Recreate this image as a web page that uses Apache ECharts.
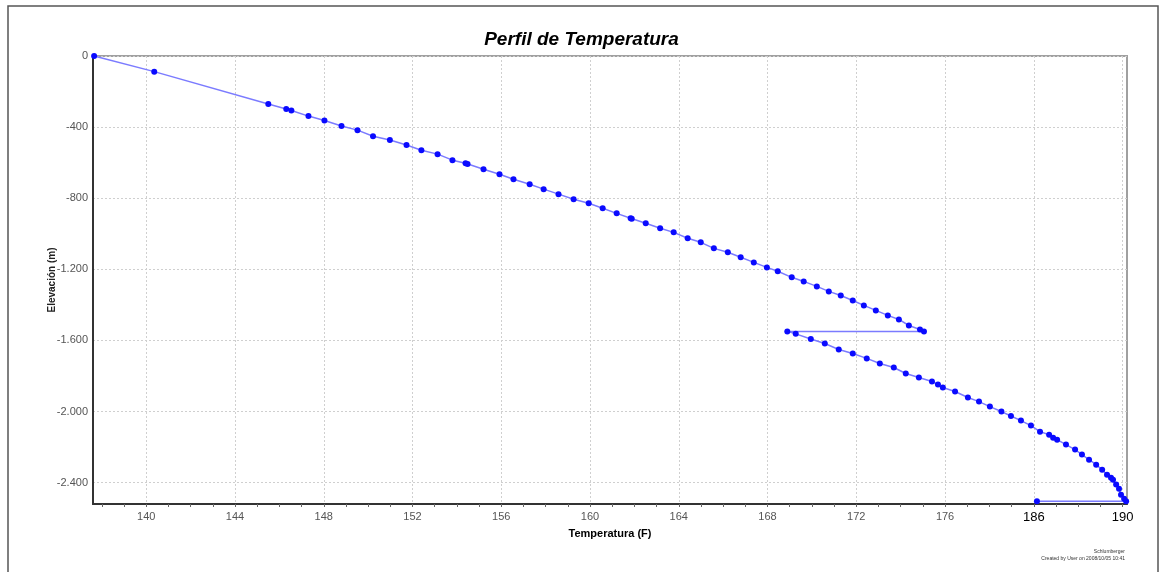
<!DOCTYPE html>
<html><head><meta charset="utf-8">
<script src="https://cdn.jsdelivr.net/npm/echarts@6/dist/echarts.min.js"></script>
<style>html,body{margin:0;padding:0;background:#fff}#c{width:1163px;height:572px}</style>
</head><body><div id="c"></div>
<script>
const titleText = 'Perfil de Temperatura';
const xName = 'Temperatura (F)';
const yName = 'Elevación (m)';
const xTickValues = [140,144,148,152,156,160,164,168,172,176,180,184];
const xTickLabels = ['140','144','148','152','156','160','164','168','172','176','186','190'];
const yTickValues = [0,-400,-800,-1200,-1600,-2000,-2400];
const yTickLabels = ['0','-400','-800','-1.200','-1.600','-2.000','-2.400'];
const footerLines = ['Schlumberger','Created by User on 2008/10/05 10:41'];

const temperature = [137.65,140.36,145.50,146.31,146.54,147.31,148.03,148.80,149.52,150.22,150.98,151.73,152.40,153.13,153.80,154.39,154.48,155.20,155.92,156.55,157.28,157.91,158.58,159.26,159.94,160.57,161.20,161.83,161.88,162.51,163.16,163.77,164.40,164.99,165.58,166.21,166.79,167.38,167.97,168.46,169.09,169.63,170.22,170.76,171.30,171.84,172.34,172.88,173.42,173.92,174.37,174.87,175.05,
168.89,169.27,169.95,170.58,171.21,171.84,172.47,173.06,173.69,174.23,174.82,175.41,175.68,175.90,176.45,177.03,177.53,178.02,178.54,178.97,179.42,179.87,180.28,180.69,180.87,181.05,181.45,181.86,182.17,182.49,182.81,183.08,183.30,183.48,183.57,183.71,183.84,183.93,184.07,184.16,180.14];
const elevation = [0,-88,-270,-298,-307,-338,-363,-394,-417,-451,-473,-501,-530,-552,-586,-603,-608,-637,-665,-693,-721,-749,-777,-806,-828,-856,-885,-913,-915,-941,-969,-992,-1025,-1048,-1082,-1104,-1132,-1161,-1189,-1211,-1245,-1268,-1296,-1324,-1347,-1375,-1403,-1431,-1459,-1482,-1516,-1538,-1549,
-1549,-1563,-1592,-1617,-1651,-1673,-1701,-1730,-1752,-1786,-1808,-1831,-1848,-1865,-1887,-1921,-1944,-1972,-2000,-2025,-2051,-2079,-2113,-2130,-2147,-2158,-2186,-2214,-2242,-2271,-2299,-2327,-2355,-2372,-2383,-2411,-2434,-2468,-2490,-2505,-2505];

const minorX = [];
for (let v = 138; v <= 184; v++) minorX.push(v);

const pts = temperature.map((t, i) => [t, elevation[i]]);
const FONT = '"Liberation Sans", Arial, sans-serif';
const GRID = {left: 93, top: 56, right: 36, bottom: 68};
const plotH = 572 - GRID.top - GRID.bottom;

const chart = echarts.init(document.getElementById('c'), null, {renderer: 'canvas'});
chart.setOption({
  animation: false,
  backgroundColor: '#fff',
  title: {
    text: titleText, left: 'center', top: 25,
    textStyle: {fontFamily: FONT, fontSize: 19, fontWeight: 'bold', fontStyle: 'italic', color: '#000'}
  },
  grid: Object.assign({show: true, borderColor: '#a0a0a0', borderWidth: 2, backgroundColor: '#fff'}, GRID),
  xAxis: [{
    type: 'value', min: 137.6, max: 184.2, position: 'bottom',
    name: xName, nameLocation: 'middle', nameGap: 21,
    nameTextStyle: {fontFamily: FONT, fontSize: 11, fontWeight: 'bold', color: '#000'},
    axisLine: {show: true, onZero: false, lineStyle: {color: '#333', width: 2}},
    axisTick: {show: false, customValues: xTickValues},
    axisLabel: {
      customValues: xTickValues, margin: 7,
      fontFamily: FONT, fontSize: 11, color: '#555',
      formatter: function (v) {
        const i = xTickValues.indexOf(Math.round(v));
        const s = i >= 0 ? xTickLabels[i] : '';
        return (i >= 10) ? '{b|' + s + '}' : s;
      },
      rich: {b: {fontFamily: FONT, fontSize: 13, color: '#000'}}
    },
    splitLine: {show: true, lineStyle: {color: '#cfcfcf', type: [2, 2], width: 1}}
  }, {
    type: 'value', min: 137.6, max: 184.2, position: 'top', offset: -plotH,
    axisLine: {show: false},
    axisTick: {show: true, inside: true, length: 3, customValues: minorX, lineStyle: {color: '#666', width: 1}},
    axisLabel: {show: false},
    splitLine: {show: false}
  }],
  yAxis: {
    type: 'value', min: -2520, max: 0,
    name: yName, nameLocation: 'middle', nameGap: 36, nameRotate: 90, nameMoveOverlap: false,
    nameTextStyle: {fontFamily: FONT, fontSize: 10, fontWeight: 'bold', color: '#222'},
    axisLine: {show: true, onZero: false, lineStyle: {color: '#333', width: 2}},
    axisTick: {show: false, customValues: yTickValues},
    axisLabel: {
      customValues: yTickValues, margin: 5,
      fontFamily: FONT, fontSize: 11, color: '#555',
      formatter: function (v) {
        const i = yTickValues.indexOf(Math.round(v));
        return i >= 0 ? yTickLabels[i] : '';
      }
    },
    splitLine: {show: true, lineStyle: {color: '#cfcfcf', type: [2, 2], width: 1}}
  },
  graphic: [
    {type: 'rect', shape: {x: 8, y: 6, width: 1150, height: 600}, style: {fill: 'none', stroke: '#555', lineWidth: 1.5}, z: 100, silent: true},
    {type: 'text', right: 38, top: 549, style: {text: footerLines[0], font: '5px ' + FONT, fill: '#333', textAlign: 'right'}},
    {type: 'text', right: 38, top: 556, style: {text: footerLines[1], font: '5px ' + FONT, fill: '#333', textAlign: 'right'}}
  ],
  series: [{
    type: 'line', xAxisIndex: 0, data: pts,
    clip: false,
    symbol: 'circle', symbolSize: 6, showAllSymbol: true,
    lineStyle: {color: '#7b7bff', width: 1.5},
    itemStyle: {color: '#0a0aff'},
    z: 5
  }]
});
</script></body></html>
